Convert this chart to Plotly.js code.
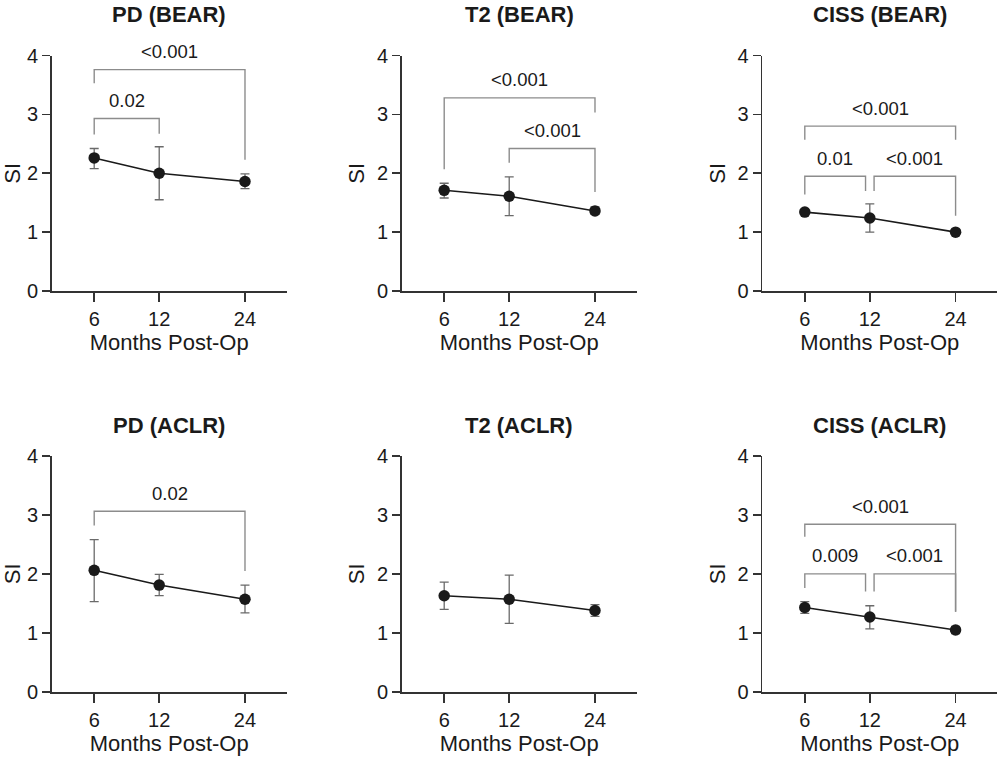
<!DOCTYPE html>
<html>
<head>
<meta charset="utf-8">
<script src="https://cdn.plot.ly/plotly-3.0.1.min.js"></script>
<style>
  html, body { margin: 0; padding: 0; background: #fff; }
  #chart { width: 1000px; height: 759px; }
</style>
</head>
<body>
<div id="chart"></div>
<script>
// months post-op on the x axis
const months = [6, 12, 24]
const monthLabels = ['6', '12', '24']
const panelTitles = ['PD (BEAR)', 'T2 (BEAR)', 'CISS (BEAR)', 'PD (ACLR)', 'T2 (ACLR)', 'CISS (ACLR)']

// mean SI with upper / lower ends of the error bars
const pdBear = [2.26, 2.00, 1.86]
const pdBearHi = [2.42, 2.45, 1.99]
const pdBearLo = [2.08, 1.55, 1.74]

const t2Bear = [1.71, 1.61, 1.36]
const t2BearHi = [1.83, 1.94, 1.43]
const t2BearLo = [1.58, 1.28, 1.30]

const cissBear = [1.34, 1.24, 1.00]
const cissBearHi = [1.37, 1.48, 1.03]
const cissBearLo = [1.31, 1.00, 0.97]

const pdAclr = [2.06, 1.81, 1.57]
const pdAclrHi = [2.58, 1.99, 1.81]
const pdAclrLo = [1.53, 1.63, 1.34]

const t2Aclr = [1.63, 1.57, 1.38]
const t2AclrHi = [1.86, 1.98, 1.48]
const t2AclrLo = [1.40, 1.16, 1.28]

const cissAclr = [1.43, 1.27, 1.05]
const cissAclrHi = [1.53, 1.46, 1.11]
const cissAclrLo = [1.33, 1.07, 0.99]

// significance brackets: [from, to, bar height, left leg end, right leg end, p]
const pdBearComps = [[6, 24, 3.76, 3.53, 2.23, '<0.001'], [6, 12, 2.93, 2.66, 2.67, '0.02']]
const t2BearComps = [[6, 24, 3.28, 2.07, 3.03, '<0.001'], [12, 24, 2.42, 2.18, 1.68, '<0.001']]
const cissBearComps = [[6, 24, 2.80, 2.57, 2.57, '<0.001'], [6, 12, 1.95, 1.64, 1.70, '0.01'], [12, 24, 1.95, 1.70, 1.28, '<0.001']]
const pdAclrComps = [[6, 24, 3.06, 2.82, 2.05, '0.02']]
const t2AclrComps = []
const cissAclrComps = [[6, 24, 2.84, 2.63, 1.36, '<0.001'], [6, 12, 2.00, 1.76, 1.70, '0.009'], [12, 24, 2.00, 1.70, 1.36, '<0.001']]

const panels = [
    { mean: pdBear, hi: pdBearHi, lo: pdBearLo, comps: pdBearComps },
    { mean: t2Bear, hi: t2BearHi, lo: t2BearLo, comps: t2BearComps },
    { mean: cissBear, hi: cissBearHi, lo: cissBearLo, comps: cissBearComps },
    { mean: pdAclr, hi: pdAclrHi, lo: pdAclrLo, comps: pdAclrComps },
    { mean: t2Aclr, hi: t2AclrHi, lo: t2AclrLo, comps: t2AclrComps },
    { mean: cissAclr, hi: cissAclrHi, lo: cissAclrLo, comps: cissAclrComps },
]

// the original month axis is compressed (not linear, not log)
const pos = m => Math.pow(m, 0.4)

const W = 1000, H = 759
const colLeft = [51.7, 401.7, 762.3]
const colWidth = 235
const rowTop = [55.5, 455.7]
const rowBottom = [291, 692]
const nudge = 0.043   // ~4px, keeps touching brackets apart

const font = 'Liberation Sans, Arial, Helvetica, sans-serif'
const axisColor = '#333333'
const bracketColor = '#8c8c8c'

const data = []
const shapes = []
const annotations = []
const layout = {
    width: W,
    height: H,
    margin: { l: 0, r: 0, t: 0, b: 0 },
    paper_bgcolor: '#ffffff',
    plot_bgcolor: '#ffffff',
    showlegend: false,
    font: { family: font, color: '#1a1a1a' },
}

panels.forEach((p, i) => {
    const n = i + 1
    const sfx = n === 1 ? '' : String(n)
    const row = Math.floor(i / 3), col = i % 3
    const xa = 'x' + sfx, ya = 'y' + sfx

    data.push({
        type: 'scatter',
        mode: 'lines+markers',
        x: months.map(pos),
        y: p.mean,
        xaxis: xa,
        yaxis: ya,
        line: { color: '#1a1a1a', width: 1.6 },
        marker: { color: '#1a1a1a', size: 11.5 },
        error_y: {
            type: 'data',
            symmetric: false,
            array: p.hi.map((v, k) => v - p.mean[k]),
            arrayminus: p.mean.map((v, k) => v - p.lo[k]),
            color: '#6a6a6a',
            thickness: 1.3,
            width: 4.5,
        },
        cliponaxis: false,
        hoverinfo: 'skip',
    })

    const x0 = colLeft[col] / W
    const x1 = (colLeft[col] + colWidth) / W
    layout['xaxis' + sfx] = {
        domain: [x0, x1],
        anchor: ya,
        range: [pos(3.34), pos(31.7)],
        tickvals: months.map(pos),
        ticktext: monthLabels,
        ticks: 'outside',
        ticklen: 9,
        tickwidth: 1.6,
        tickcolor: axisColor,
        showline: true,
        linecolor: axisColor,
        linewidth: 1.6,
        showgrid: false,
        zeroline: false,
        tickfont: { size: 20, color: '#1a1a1a' },
        title: { text: 'Months Post-Op', font: { size: 22, color: '#1a1a1a' }, standoff: 6 },
        fixedrange: true,
    }
    layout['yaxis' + sfx] = {
        domain: [1 - rowBottom[row] / H, 1 - rowTop[row] / H],
        anchor: xa,
        range: [0, 4],
        tickvals: [0, 1, 2, 3, 4],
        ticks: 'outside',
        ticklen: 8,
        tickwidth: 1.6,
        tickcolor: axisColor,
        showline: true,
        linecolor: axisColor,
        linewidth: 1.6,
        showgrid: false,
        zeroline: false,
        tickfont: { size: 20, color: '#1a1a1a' },
        title: { text: 'SI', font: { size: 22, color: '#1a1a1a' }, standoff: 6 },
        fixedrange: true,
    }

    annotations.push({
        xref: 'paper', yref: 'paper',
        x: (x0 + x1) / 2,
        y: 1 - (row === 0 ? 14 : 425) / H,
        text: '<b>' + panelTitles[i] + '</b>',
        showarrow: false,
        xanchor: 'center', yanchor: 'middle',
        font: { size: 22, color: '#1a1a1a' },
    })

    p.comps.forEach(c => {
        const [from, to, bar, legL, legR, label] = c
        // shift an end inward when another bracket at the same height meets it
        const shares = m => p.comps.some(o => o !== c && o[2] === bar && (o[0] === m || o[1] === m))
        const xl = pos(from) + (shares(from) ? nudge : 0)
        const xr = pos(to) - (shares(to) ? nudge : 0)
        shapes.push({
            type: 'path',
            xref: xa, yref: ya,
            path: `M ${xl},${legL} L ${xl},${bar} L ${xr},${bar} L ${xr},${legR}`,
            line: { color: bracketColor, width: 1.4 },
        })
        annotations.push({
            xref: xa, yref: ya,
            x: (xl + xr) / 2,
            y: bar,
            yshift: 18,
            text: label,
            showarrow: false,
            xanchor: 'center', yanchor: 'middle',
            font: { size: 18.5, color: '#1a1a1a' },
        })
    })
})

layout.shapes = shapes
layout.annotations = annotations

Plotly.newPlot('chart', data, layout, { staticPlot: true, displayModeBar: false })
</script>
</body>
</html>
